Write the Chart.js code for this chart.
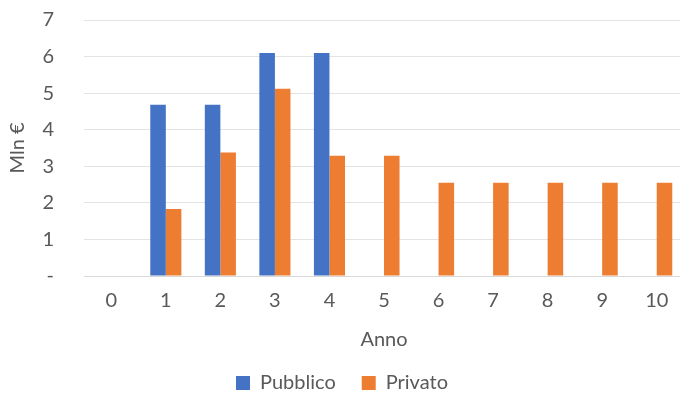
<!DOCTYPE html>
<html>
<head>
<meta charset="utf-8">
<script src="https://cdn.jsdelivr.net/npm/chart.js@4/dist/chart.umd.min.js"></script>
<style>
  html, body { margin: 0; padding: 0; background: #fff; overflow: hidden; }
  #wrap { width: 686px; height: 399px; }
</style>
</head>
<body>
<div id="wrap"><canvas id="c" width="686" height="399"></canvas></div>
<script>
// Annual flows (million euro) by source
const anni = ['0', '1', '2', '3', '4', '5', '6', '7', '8', '9', '10'];
const pubblico = [0, 4.68, 4.68, 6.1, 6.1, 0, 0, 0, 0, 0, 0];
const privato  = [0, 1.83, 3.38, 5.12, 3.29, 3.29, 2.55, 2.55, 2.55, 2.55, 2.55];
const yTicks = [0, 1, 2, 3, 4, 5, 6, 7];

const FONT = 'Lato, "Open Sans", sans-serif';
const TXT = '#595959';

// move the legend row a little lower than the default layout puts it
const legendNudge = {
  id: 'legendNudge',
  afterLayout(chart) {
    const l = chart.legend;
    if (l) { l.top += 4; l.bottom += 4; }
  }
};

new Chart(document.getElementById('c'), {
  type: 'bar',
  data: {
    labels: anni,
    datasets: [
      { label: 'Pubblico', data: pubblico, backgroundColor: '#4472C4', borderWidth: 0,
        categoryPercentage: 0.57, barPercentage: 1.0 },
      { label: 'Privato', data: privato, backgroundColor: '#ED7D31', borderWidth: 0,
        categoryPercentage: 0.57, barPercentage: 1.0 }
    ]
  },
  plugins: [legendNudge],
  options: {
    responsive: false,
    animation: false,
    layout: { padding: { top: 0, right: 2, left: 0, bottom: 0 } },
    plugins: {
      tooltip: { enabled: false },
      legend: {
        position: 'bottom',
        labels: {
          font: { family: FONT, size: 20 },
          color: TXT,
          boxWidth: 14, boxHeight: 14,
          padding: 26
        }
      }
    },
    scales: {
      x: {
        afterFit: s => { s.height = 67; },
        grid: { display: false, drawTicks: false },
        border: { color: '#D9D9D9', width: 1 },
        ticks: { font: { family: FONT, size: 20 }, color: TXT, padding: 13 },
        title: { display: true, text: 'Anno', font: { family: FONT, size: 20 }, color: TXT, padding: { top: 0, bottom: -9 } }
      },
      y: {
        min: 0, max: 7,
        // fixed axis band; keep the plot top close to the canvas edge
        afterFit: s => { s.width = 84; s.paddingTop = 20; s.paddingBottom = 0; },
        afterBuildTicks: s => { s.ticks = yTicks.map(v => ({ value: v })); },
        grid: { color: '#E3E3E3', lineWidth: 1, drawTicks: false },
        border: { display: false },
        ticks: {
          font: { family: FONT, size: 20 }, color: TXT, padding: 30,
          callback: v => v === 0 ? '-' : String(v)
        },
        title: { display: true, text: 'Mln €', font: { family: FONT, size: 20 }, color: TXT, padding: { top: 6, bottom: 0 } }
      }
    }
  }
});
</script>
</body>
</html>
